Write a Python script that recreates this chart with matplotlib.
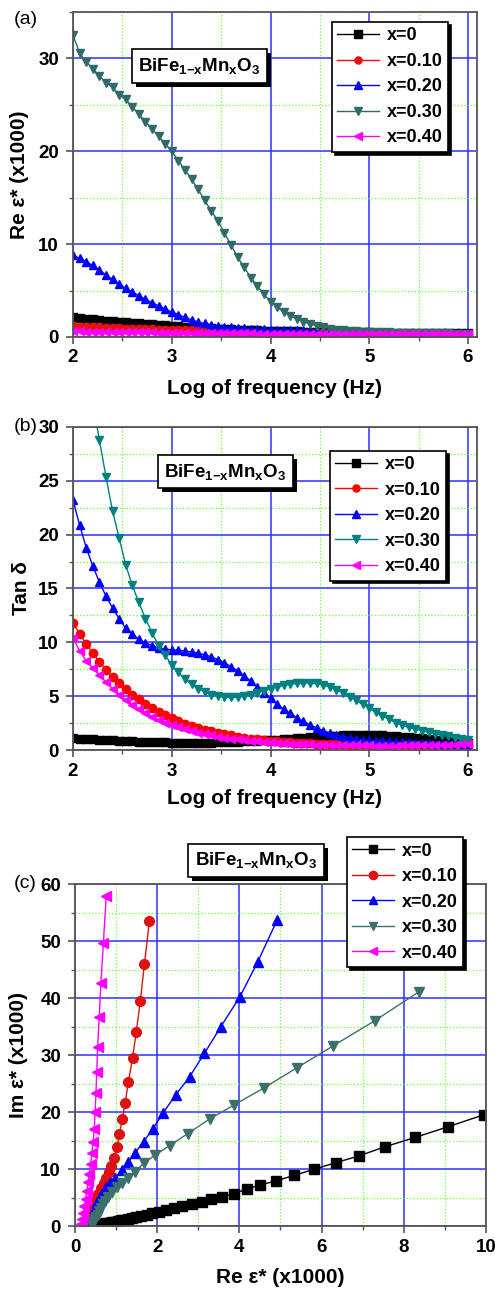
import numpy as np
import matplotlib
matplotlib.use("Agg")
import matplotlib.pyplot as plt
from matplotlib.ticker import MultipleLocator
from matplotlib.patches import Rectangle
from matplotlib.transforms import IdentityTransform

plt.rcParams['font.family'] = ['Liberation Sans', 'DejaVu Sans']
plt.rcParams['mathtext.fontset'] = 'custom'
plt.rcParams['mathtext.rm'] = 'Liberation Sans:bold'
plt.rcParams['mathtext.it'] = 'Liberation Sans:bold'
plt.rcParams['mathtext.bf'] = 'Liberation Sans:bold'

# log10 of frequency, 15 points per decade from 100 Hz to 1 MHz
logf = 2 + np.arange(61) / 15.0

labels = ["x=0", "x=0.10", "x=0.20", "x=0.30", "x=0.40"]
markers = ["s", "o", "^", "v", "<"]

# (a) real part of permittivity (x1000)
re_x0 = [2.15, 2.05, 1.97, 1.89, 1.82, 1.75, 1.69, 1.63, 1.57, 1.51,
         1.46, 1.41, 1.36, 1.31, 1.26, 1.21, 1.16, 1.11, 1.06, 1.01,
         0.97, 0.93, 0.89, 0.85, 0.82, 0.79, 0.76, 0.73, 0.71, 0.69,
         0.67, 0.65, 0.63, 0.61, 0.60, 0.58, 0.57, 0.56, 0.55, 0.54,
         0.53, 0.52, 0.51, 0.50, 0.49, 0.48, 0.47, 0.46, 0.45, 0.44,
         0.43, 0.43, 0.42, 0.41, 0.41, 0.40, 0.40, 0.39, 0.39, 0.38, 0.38]
re_x10 = [1.15, 1.11, 1.08, 1.05, 1.02, 0.99, 0.96, 0.93, 0.90, 0.88,
          0.86, 0.84, 0.82, 0.80, 0.78, 0.76, 0.74, 0.72, 0.70, 0.68,
          0.66, 0.64, 0.62, 0.60, 0.58, 0.56, 0.54, 0.52, 0.50, 0.48,
          0.47, 0.46, 0.45, 0.44, 0.43, 0.42, 0.41, 0.40, 0.39, 0.38,
          0.37, 0.37, 0.36, 0.36, 0.35, 0.35, 0.34, 0.34, 0.33, 0.33,
          0.32, 0.32, 0.31, 0.31, 0.30, 0.30, 0.30, 0.29, 0.29, 0.29, 0.28]
re_x20 = [8.8, 8.45, 8.1, 7.7, 7.2, 6.7, 6.2, 5.7, 5.25, 4.85,
          4.45, 4.05, 3.7, 3.35, 3.0, 2.7, 2.4, 2.1, 1.85, 1.6,
          1.45, 1.3, 1.2, 1.1, 1.02, 0.96, 0.92, 0.88, 0.85, 0.82,
          0.80, 0.78, 0.76, 0.74, 0.72, 0.70, 0.68, 0.66, 0.64, 0.62,
          0.60, 0.58, 0.56, 0.54, 0.52, 0.50, 0.48, 0.47, 0.46, 0.45,
          0.44, 0.43, 0.42, 0.41, 0.40, 0.39, 0.38, 0.37, 0.36, 0.35, 0.34]
re_x30 = [32.5, 30.6, 29.6, 28.9, 28.1, 27.4, 26.9, 26.1, 25.6, 24.8,
          24.0, 23.2, 22.4, 21.6, 20.8, 20.0, 19.0, 18.0, 17.0, 15.9,
          14.7, 13.6, 12.5, 11.2, 9.9, 8.6, 7.5, 6.4, 5.5, 4.6,
          3.8, 3.2, 2.7, 2.3, 1.95, 1.65, 1.4, 1.2, 1.05, 0.9,
          0.8, 0.72, 0.66, 0.62, 0.58, 0.55, 0.52, 0.50, 0.48, 0.46,
          0.45, 0.44, 0.43, 0.42, 0.41, 0.40, 0.39, 0.38, 0.37, 0.36, 0.35]
re_x40 = [0.60, 0.59, 0.58, 0.57, 0.56, 0.55, 0.54, 0.53, 0.52, 0.51,
          0.50, 0.49, 0.48, 0.47, 0.46, 0.45, 0.44, 0.43, 0.42, 0.42,
          0.41, 0.41, 0.40, 0.40, 0.39, 0.39, 0.38, 0.38, 0.37, 0.37,
          0.36, 0.36, 0.35, 0.35, 0.34, 0.34, 0.34, 0.33, 0.33, 0.33,
          0.32, 0.32, 0.32, 0.31, 0.31, 0.31, 0.30, 0.30, 0.30, 0.30,
          0.29, 0.29, 0.29, 0.29, 0.28, 0.28, 0.28, 0.28, 0.27, 0.27, 0.27]

# (b) loss tangent
tan_x0 = [1.10, 1.06, 1.02, 0.98, 0.95, 0.92, 0.89, 0.86, 0.83, 0.80,
          0.78, 0.76, 0.74, 0.72, 0.70, 0.68, 0.67, 0.66, 0.66, 0.66,
          0.67, 0.68, 0.70, 0.72, 0.75, 0.78, 0.81, 0.84, 0.87, 0.90,
          0.93, 0.97, 1.01, 1.05, 1.09, 1.13, 1.17, 1.21, 1.25, 1.29,
          1.32, 1.35, 1.37, 1.38, 1.39, 1.39, 1.38, 1.36, 1.33, 1.29,
          1.25, 1.20, 1.14, 1.08, 1.02, 0.96, 0.90, 0.84, 0.78, 0.72, 0.66]
tan_x10 = [11.8, 10.8, 9.85, 9.0, 8.2, 7.45, 6.8, 6.2, 5.65, 5.15,
           4.7, 4.3, 3.9, 3.55, 3.25, 2.95, 2.7, 2.45, 2.25, 2.05,
           1.9, 1.75, 1.6, 1.48, 1.36, 1.25, 1.15, 1.06, 0.98, 0.90,
           0.84, 0.79, 0.75, 0.71, 0.68, 0.65, 0.62, 0.60, 0.58, 0.56,
           0.54, 0.52, 0.51, 0.50, 0.49, 0.48, 0.47, 0.46, 0.45, 0.44,
           0.43, 0.42, 0.41, 0.40, 0.39, 0.38, 0.37, 0.36, 0.35, 0.34, 0.33]
tan_x20 = [23.2, 20.9, 18.8, 17.1, 15.6, 14.3, 13.2, 12.2, 11.3, 10.75,
           10.3, 9.95, 9.7, 9.5, 9.38, 9.3, 9.25, 9.2, 9.1, 9.0,
           8.85, 8.65, 8.4, 8.1, 7.75, 7.35, 6.9, 6.4, 5.85, 5.3,
           4.8, 4.25, 3.8, 3.4, 3.0, 2.65, 2.35, 2.05, 1.8, 1.58,
           1.4, 1.25, 1.12, 1.02, 0.95, 0.90, 0.86, 0.82, 0.79, 0.76,
           0.73, 0.70, 0.67, 0.64, 0.61, 0.58, 0.55, 0.52, 0.50, 0.47, 0.45]
tan_x30 = [44.0, 40.0, 36.0, 32.3, 28.8, 25.4, 22.2, 19.7, 17.2, 15.3,
           13.7, 12.2, 10.9, 9.7, 8.8, 7.9, 7.2, 6.6, 6.1, 5.7,
           5.4, 5.15, 5.0, 4.9, 4.88, 4.9, 5.0, 5.15, 5.3, 5.5,
           5.7, 5.85, 6.0, 6.1, 6.18, 6.22, 6.22, 6.18, 6.05, 5.85,
           5.6, 5.3, 4.95, 4.6, 4.25, 3.9, 3.5, 3.15, 2.85, 2.55,
           2.3, 2.1, 1.95, 1.8, 1.65, 1.5, 1.38, 1.26, 1.14, 1.02, 0.92]
tan_x40 = [10.4, 9.2, 8.3, 7.6, 6.95, 6.3, 5.7, 5.15, 4.65, 4.2,
           3.8, 3.45, 3.1, 2.8, 2.55, 2.3, 2.1, 1.92, 1.76, 1.62,
           1.48, 1.36, 1.25, 1.15, 1.06, 0.98, 0.91, 0.85, 0.79, 0.74,
           0.70, 0.66, 0.63, 0.60, 0.57, 0.55, 0.53, 0.51, 0.49, 0.47,
           0.46, 0.45, 0.44, 0.43, 0.42, 0.42, 0.41, 0.41, 0.41, 0.41,
           0.42, 0.42, 0.43, 0.44, 0.45, 0.46, 0.47, 0.49, 0.51, 0.53, 0.55]

# (c) Cole-Cole plane, Re / Im (x1000)
cc_re_x0 = [0.55, 0.57, 0.59, 0.62, 0.65, 0.68, 0.72, 0.76, 0.81, 0.86,
            0.91, 0.97, 1.04, 1.11, 1.19, 1.28, 1.38, 1.49, 1.61, 1.74,
            1.88, 2.04, 2.21, 2.40, 2.61, 2.84, 3.09, 3.31, 3.58, 3.86,
            4.19, 4.51, 4.90, 5.34, 5.81, 6.34, 6.91, 7.54, 8.28, 9.07, 9.94]
cc_im_x0 = [0.15, 0.18, 0.21, 0.25, 0.29, 0.34, 0.39, 0.45, 0.52, 0.59,
            0.67, 0.76, 0.86, 0.97, 1.10, 1.24, 1.40, 1.58, 1.78, 2.00,
            2.25, 2.50, 2.80, 3.10, 3.45, 3.85, 4.27, 4.70, 5.15, 5.70,
            6.50, 7.20, 7.95, 8.90, 9.94, 11.1, 12.3, 13.9, 15.55, 17.4, 19.5]
cc_re_x10 = [0.28, 0.33, 0.39, 0.45, 0.51, 0.57, 0.63, 0.70, 0.76, 0.82,
             0.88, 0.95, 1.02, 1.08, 1.15, 1.22, 1.30, 1.40, 1.49, 1.59, 1.69, 1.81]
cc_im_x10 = [0.2, 1.3, 2.5, 3.6, 4.6, 5.6, 6.6, 7.6, 8.5, 9.4,
             10.5, 12.0, 13.8, 16.1, 18.7, 21.6, 25.3, 29.5, 34.0, 39.5, 46.0, 53.5]
cc_re_x20 = [0.35, 0.39, 0.43, 0.48, 0.54, 0.60, 0.67, 0.75, 0.85, 0.98,
             1.14, 1.30, 1.46, 1.67, 1.90, 2.14, 2.45, 2.79, 3.15, 3.55,
             4.01, 4.45, 4.92]
cc_im_x20 = [0.2, 1.2, 2.2, 3.2, 4.2, 5.1, 6.0, 6.8, 7.6, 8.4,
             9.8, 11.3, 12.8, 14.8, 17.1, 19.8, 23.0, 26.2, 30.3, 35.0,
             40.2, 46.4, 53.7]
cc_re_x30 = [0.41, 0.44, 0.47, 0.51, 0.55, 0.59, 0.63, 0.67, 0.72, 0.81,
             0.90, 1.01, 1.14, 1.30, 1.46, 1.67, 1.94, 2.30, 2.74, 3.28,
             3.86, 4.59, 5.41, 6.28, 7.29, 8.37]
cc_im_x30 = [0.2, 0.7, 1.2, 1.6, 2.0, 2.6, 3.2, 3.8, 4.4, 5.1,
             6.0, 6.8, 7.5, 8.4, 9.5, 11.0, 12.4, 14.1, 16.2, 18.8,
             21.2, 24.2, 27.8, 31.6, 36.0, 41.1]
cc_re_x40 = [0.14, 0.17, 0.20, 0.23, 0.26, 0.29, 0.32, 0.35, 0.38, 0.41,
             0.44, 0.47, 0.49, 0.51, 0.53, 0.55, 0.59, 0.63, 0.69, 0.76]
cc_im_x40 = [0.3, 1.2, 2.3, 3.5, 4.8, 6.2, 7.7, 9.2, 10.8, 12.8,
             14.8, 17.1, 20.0, 23.3, 27.1, 31.4, 36.6, 42.6, 49.6, 57.9]


def style_axes(ax, xmaj, xmin, ymaj, ymin):
    ax.xaxis.set_major_locator(MultipleLocator(xmaj))
    ax.xaxis.set_minor_locator(MultipleLocator(xmin))
    ax.yaxis.set_major_locator(MultipleLocator(ymaj))
    ax.yaxis.set_minor_locator(MultipleLocator(ymin))
    ax.grid(which='major', color='#3030ff', lw=1.1, ls='-')
    ax.grid(which='minor', color='#66ff33', lw=0.9, ls=':')
    ax.set_axisbelow(True)
    for s in ax.spines.values():
        s.set_color('#555555')
        s.set_linewidth(1.3)
    ax.tick_params(which='major', direction='out', length=5, width=1.2,
                   color='#555555', labelsize=13.5)
    ax.tick_params(which='minor', direction='out', length=3, width=1.0,
                   color='#555555')
    ax.tick_params(axis='x', which='major', pad=4)
    ax.tick_params(axis='y', which='major', pad=5)
    for t in ax.get_xticklabels() + ax.get_yticklabels():
        t.set_fontweight('bold')


formula_texts = []


def formula_box(ax, x, y):
    txt = r'BiFe$_{1\mathrm{-}x}$Mn$_x$O$_3$'
    t = ax.text(x, y, txt, transform=ax.transAxes, ha='center', va='center',
                fontsize=13.5, fontweight='bold', color='black', zorder=6,
                clip_on=False,
                bbox=dict(boxstyle='square,pad=0.35', fc='white', ec='black',
                          lw=1.2))
    formula_texts.append((ax, t))


def add_legend(ax, anchor):
    leg = ax.legend(loc='upper left', bbox_to_anchor=anchor, borderaxespad=0,
                    fancybox=False, framealpha=1, edgecolor='black',
                    shadow={'color': 'black', 'alpha': 1},
                    prop={'weight': 'bold', 'size': 13},
                    handlelength=2.3, labelspacing=0.47, borderpad=0.3,
                    handletextpad=0.45, markerscale=0.85)
    leg.get_frame().set_linewidth(1.2)
    leg.set_zorder(7)
    return leg


fig = plt.figure(figsize=(4.95, 12.9), dpi=100)

# panel (a)
ax_a = fig.add_axes([0.1475, 0.7388, 0.816, 0.2519])
cols_ab = ['black', '#e81010', '#0000ff', '#2f6b68', '#ff00ff']
for ys, lab, m, c in zip([re_x0, re_x10, re_x20, re_x30, re_x40], labels, markers, cols_ab):
    ax_a.plot(logf, ys, marker=m, color=c, ms=6, lw=1, label=lab)
ax_a.set_xlim(2, 6.09)
ax_a.set_ylim(0, 35)
style_axes(ax_a, 1, 0.5, 10, 5)
ax_a.set_xlabel('Log of frequency (Hz)', fontsize=15, fontweight='bold')
ax_a.set_ylabel('Re ε* (x1000)', fontsize=15, fontweight='bold')
ax_a.xaxis.set_label_coords(0.5, -0.128)
ax_a.yaxis.set_label_coords(-0.11, 0.5)
add_legend(ax_a, (0.641, 0.969))
formula_box(ax_a, 0.313, 0.834)

# panel (b)
ax_b = fig.add_axes([0.1475, 0.4186, 0.816, 0.2504])
cols_b = ['black', '#ff0000', '#0000ff', '#008080', '#ff00ff']
for ys, lab, m, c in zip([tan_x0, tan_x10, tan_x20, tan_x30, tan_x40], labels, markers, cols_b):
    ax_b.plot(logf, ys, marker=m, color=c, ms=6, lw=1, label=lab)
ax_b.set_xlim(2, 6.09)
ax_b.set_ylim(0, 30)
style_axes(ax_b, 1, 0.5, 5, 2.5)
ax_b.set_xlabel('Log of frequency (Hz)', fontsize=15, fontweight='bold')
ax_b.set_ylabel('Tan δ', fontsize=15, fontweight='bold')
ax_b.xaxis.set_label_coords(0.5, -0.121)
ax_b.yaxis.set_label_coords(-0.105, 0.5)
add_legend(ax_b, (0.636, 0.926))
formula_box(ax_b, 0.377, 0.861)

# panel (c)
ax_c = fig.add_axes([0.1515, 0.0496, 0.8303, 0.2651])
cols_c = ['black', '#dd1111', '#0000ff', '#3d6f6b', '#ff00ff']
cc = [(cc_re_x0, cc_im_x0), (cc_re_x10, cc_im_x10), (cc_re_x20, cc_im_x20),
      (cc_re_x30, cc_im_x30), (cc_re_x40, cc_im_x40)]
for (xs, ys), lab, m, c in zip(cc, labels, markers, cols_c):
    ax_c.plot(xs, ys, marker=m, color=c, ms=7, lw=1, label=lab)
ax_c.set_xlim(0, 10)
ax_c.set_ylim(0, 60)
style_axes(ax_c, 2, 1, 10, 5)
ax_c.set_xlabel('Re ε* (x1000)', fontsize=15, fontweight='bold')
ax_c.set_ylabel('Im ε* (x1000)', fontsize=15, fontweight='bold')
ax_c.xaxis.set_label_coords(0.5, -0.122)
ax_c.yaxis.set_label_coords(-0.114, 0.5)
add_legend(ax_c, (0.662, 1.137))
formula_box(ax_c, 0.44, 1.069)

for lab, yy in [('(a)', 1 - 20 / 1290), ('(b)', 0.669), ('(c)', 0.315)]:
    fig.text(0.027, yy, lab, fontsize=14, ha='left', va='center')

# black drop shadow behind each formula box
fig.canvas.draw()
for ax, t in formula_texts:
    bb = t.get_bbox_patch().get_window_extent()
    ax.add_patch(Rectangle((bb.x0 + 4, bb.y0 - 4), bb.width, bb.height,
                           transform=IdentityTransform(), fc='black',
                           ec='none', zorder=5.5, clip_on=False))

fig.savefig('out.png', dpi=100)
